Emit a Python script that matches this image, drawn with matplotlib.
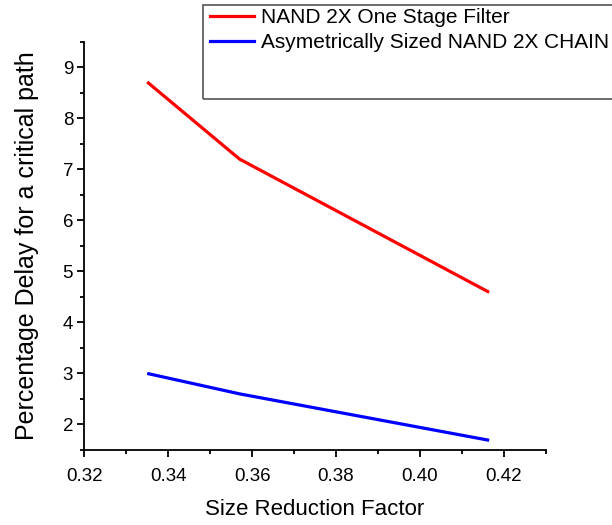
import matplotlib
matplotlib.use("Agg")
import matplotlib.pyplot as plt
from matplotlib.patches import Rectangle
from matplotlib.lines import Line2D
from matplotlib.ticker import MultipleLocator

plt.rcParams['font.family'] = ['Liberation Sans', 'DejaVu Sans']

x_vals = [0.335, 0.357, 0.4165]
one_stage = [8.71, 7.2, 4.59]
asym_chain = [3.0, 2.6, 1.69]
series_labels = ["NAND 2X One Stage Filter", "Asymetrically Sized NAND 2X CHAIN"]
x_label = "Size Reduction Factor"
y_label = "Percentage Delay for a critical path"
x_ticks = [0.32, 0.34, 0.36, 0.38, 0.40, 0.42]
x_ticklabels = ["0.32", "0.34", "0.36", "0.38", "0.40", "0.42"]

W, H = 612, 525
L, R, T, B = 84.3, 545.8, 41.7, 450.0
fig = plt.figure(figsize=(W/100, H/100), dpi=100)
ax = fig.add_axes([L/W, 1-B/H, (R-L)/W, (B-T)/H])

ax.plot(x_vals, one_stage, color='#ff0000', lw=2.3, solid_capstyle='butt')
ax.plot(x_vals, asym_chain, color='#0000ff', lw=2.3, solid_capstyle='butt')

ax.set_xlim(0.32, 0.43)
ax.set_ylim(1.5, 9.5)
ax.set_xticks(x_ticks)
ax.set_xticklabels(x_ticklabels)
ax.xaxis.set_minor_locator(MultipleLocator(0.01))
ax.yaxis.set_major_locator(MultipleLocator(1))
ax.yaxis.set_minor_locator(MultipleLocator(0.5))
for s in ('top', 'right'):
    ax.spines[s].set_visible(False)
for s in ('left', 'bottom'):
    ax.spines[s].set_linewidth(1.3)
ax.tick_params(which='major', direction='out', length=5, width=1.3, labelsize=13.5)
ax.tick_params(axis='y', which='major', pad=3)
ax.tick_params(axis='x', which='major', pad=8)
ax.tick_params(which='minor', direction='out', length=3, width=1.3)

ax.set_xlabel(x_label, fontsize=16, va='top')
ax.xaxis.set_label_coords(0.5, (B-499)/(B-T))
ax.set_ylabel(y_label, fontsize=18, va='center')
ax.yaxis.set_label_coords((27-L)/(R-L), 0.5)

# legend box
fig.patches.append(Rectangle((203/W, 1-99/H), 480/W, 94/H, transform=fig.transFigure,
                             fill=False, edgecolor='#555555', lw=1.2, clip_on=False))
handles = [Line2D([], [], color='#ff0000', lw=2.3), Line2D([], [], color='#0000ff', lw=2.3)]
fig.legend(handles, series_labels, loc='upper left', bbox_to_anchor=(210/W, 1-8/H),
           frameon=False, fontsize=15, handlelength=2.1, handletextpad=0.35,
           labelspacing=0.3, borderaxespad=0, borderpad=0)

fig.savefig("out.png", dpi=100)
